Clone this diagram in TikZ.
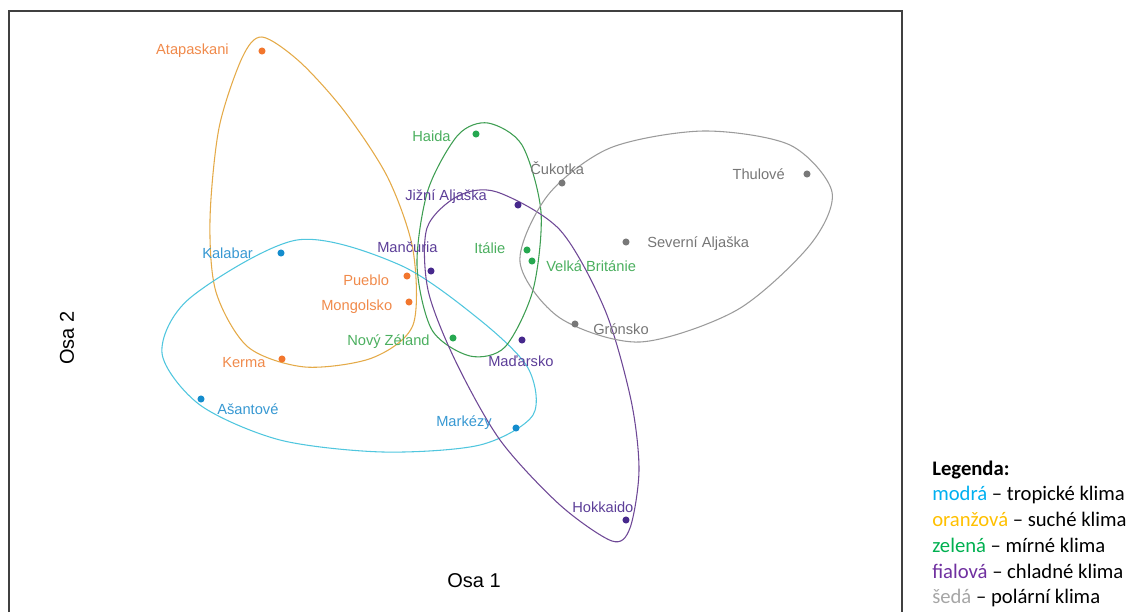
\documentclass[tikz,border=0pt]{standalone}
\usepackage{fontspec}
\setmainfont{Liberation Sans}
\newfontfamily\legfont{Carlito}
\usepackage{tikz}
\usetikzlibrary{positioning}
\usepackage{xcolor}
\definecolor{dotOrange}{RGB}{242,118,45}
\definecolor{txtOrange}{RGB}{240,138,75}
\definecolor{hullOrange}{RGB}{228,170,72}
\definecolor{dotCyan}{RGB}{20,140,205}
\definecolor{txtCyan}{RGB}{55,152,210}
\definecolor{hullCyan}{RGB}{80,198,222}
\definecolor{dotGreen}{RGB}{38,168,80}
\definecolor{txtGreen}{RGB}{75,175,95}
\definecolor{hullGreen}{RGB}{62,158,82}
\definecolor{dotPurple}{RGB}{70,40,140}
\definecolor{txtPurple}{RGB}{92,62,152}
\definecolor{hullPurple}{RGB}{110,72,150}
\definecolor{dotGray}{RGB}{120,120,120}
\definecolor{txtGray}{RGB}{118,118,118}
\definecolor{hullGray}{RGB}{155,155,155}
\definecolor{legBlue}{RGB}{0,176,240}
\definecolor{legOrange}{RGB}{255,192,0}
\definecolor{legGreen}{RGB}{0,176,80}
\definecolor{legPurple}{RGB}{112,48,160}
\definecolor{legGray}{RGB}{166,166,166}

\begin{document}
\begin{tikzpicture}[x=0.75pt,y=-0.75pt,font=\fontsize{11}{13}\selectfont,
  dot/.style={circle,fill,inner sep=0pt,minimum size=5.3pt},
  lbl/.style={inner sep=0pt},
  hull/.style={line width=0.8pt},
  leg/.style={inner sep=0pt,anchor=base west,font=\legfont\fontsize{15.5}{19}\selectfont}]
\useasboundingbox (0,0) rectangle (1133,612);
% Plot frame
\draw[black!75,line width=0.9pt] (9,612) -- (9,11) -- (902,11) -- (902,612);
% Hulls of the five climate groups
\draw[hull,hullOrange] plot[smooth cycle] coordinates {(262,37) (300,62) (345,112) (388,178) (413,250) (413,325) (372,358) (305,367) (248,347) (216,292) (210,220) (219,128) (242,58)};
\draw[hull,hullCyan] plot[smooth cycle] coordinates {(162,353) (190,298) (297,240) (400,265) (480,320) (528,368) (533,415) (480,445) (383,452) (280,440) (200,405)};
\draw[hull,hullGreen] plot[smooth cycle] coordinates {(488,123) (522,145) (541,212) (533,290) (505,347) (470,356) (432,330) (417,265) (428,190) (458,135)};
\draw[hull,hullPurple] plot[smooth cycle] coordinates {(497,192) (560,230) (605,310) (631,400) (639,470) (630,528) (612,541) (560,505) (500,440) (455,360) (428,290) (427,228) (458,196)};
\draw[hull,hullGray] plot[smooth cycle] coordinates {(520,262) (548,195) (610,148) (703,131) (790,145) (832,192) (810,245) (737,310) (640,342) (560,318)};
% Orange points
\node[dot,dotOrange] (atap) at (262,51) {};
\node[dot,dotOrange] (pueb) at (407,276) {};
\node[dot,dotOrange] (mong) at (409,302) {};
\node[dot,dotOrange] (kerm) at (282,359) {};
\node[lbl,txtOrange,anchor=east] (atap-l) at (229,51) {Atapaskani};
\node[lbl,txtOrange,anchor=west] (pueb-l) at (343,280) {Pueblo};
\node[lbl,txtOrange,anchor=west] (mong-l) at (321,307) {Mongolsko};
\node[lbl,txtOrange,anchor=west] (kerm-l) at (222,363) {Kerma};
% Cyan points
\node[dot,dotCyan] (kal) at (281,253) {};
\node[dot,dotCyan] (asan) at (201,399) {};
\node[dot,dotCyan] (mark) at (516,428) {};
\node[lbl,txtCyan,anchor=west] (kal-l) at (202,253) {Kalabar};
\node[lbl,txtCyan,anchor=west] (asan-l) at (217,409) {Ašantové};
\node[lbl,txtCyan,anchor=west] (mark-l) at (436,423) {Markézy};
% Green points
\node[dot,dotGreen] (haida) at (476,134) {};
\node[dot,dotGreen] (ital) at (527,250) {};
\node[dot,dotGreen] (vb) at (532,261) {};
\node[dot,dotGreen] (nz) at (453,338) {};
\node[lbl,txtGreen,anchor=west] (haida-l) at (412,136) {Haida};
\node[lbl,txtGreen,anchor=west] (ital-l) at (474,248) {Itálie};
\node[lbl,txtGreen,anchor=west] (vb-l) at (546,266) {Velká Británie};
\node[lbl,txtGreen,anchor=west] (nz-l) at (347,342) {Nový Zéland};
% Purple points
\node[dot,dotPurple] (jal) at (518,205) {};
\node[dot,dotPurple] (manc) at (431,271) {};
\node[dot,dotPurple] (mad) at (522,340) {};
\node[dot,dotPurple] (hokk) at (626,520) {};
\node[lbl,txtPurple,anchor=west] (jal-l) at (405,197) {Jižní Aljaška};
\node[lbl,txtPurple,anchor=west] (manc-l) at (377,247) {Mančuria};
\node[lbl,txtPurple,anchor=west] (mad-l) at (488,361) {Maďarsko};
\node[lbl,txtPurple,anchor=west] (hokk-l) at (572,507) {Hokkaido};
% Gray points
\node[dot,dotGray] (cuk) at (562,183) {};
\node[dot,dotGray] (thul) at (807,174) {};
\node[dot,dotGray] (sal) at (626,242) {};
\node[dot,dotGray] (gron) at (575,324) {};
\node[lbl,txtGray,anchor=west] (cuk-l) at (530,168) {Čukotka};
\node[lbl,txtGray,anchor=east] (thul-l) at (785,174) {Thulové};
\node[lbl,txtGray,anchor=west] (sal-l) at (647,244) {Severní Aljaška};
\node[lbl,txtGray,anchor=west] (gron-l) at (593,329) {Grónsko};
% Axis titles
\node[font=\fontsize{15}{17}\selectfont] (osa1) at (474,581) {Osa 1};
\node[font=\fontsize{15}{17}\selectfont,rotate=90] (osa2) at (67,338) {Osa 2};
% Legend
\node[leg] (leg0) at (932,475) {\bfseries Legenda:};
\node[leg] (leg1) at (932,500.5) {\textcolor{legBlue}{modrá} – tropické klima};
\node[leg] (leg2) at (932,526) {\textcolor{legOrange}{oranžová} – suché klima};
\node[leg] (leg3) at (932,552) {\textcolor{legGreen}{zelená} – mírné klima};
\node[leg] (leg4) at (932,578) {\textcolor{legPurple}{fialová} – chladné klima};
\node[leg] (leg5) at (932,603.5) {\textcolor{legGray}{šedá} – polární klima};
\end{tikzpicture}
\end{document}
